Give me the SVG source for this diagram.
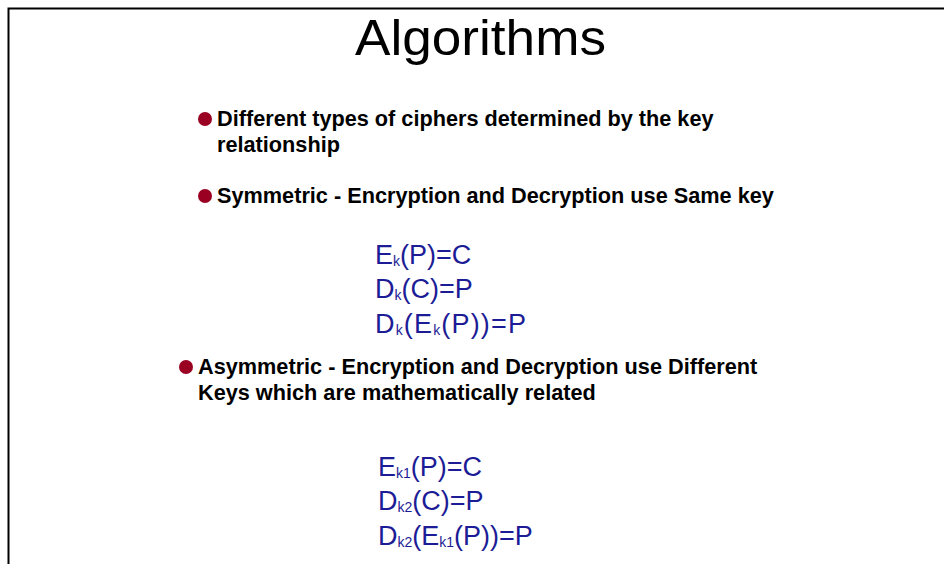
<svg xmlns="http://www.w3.org/2000/svg" width="944" height="564" viewBox="0 0 944 564">
<style>
.t{font-family:"Liberation Sans",Arial,sans-serif;fill:#000}
.b{font-family:"Liberation Sans",Arial,sans-serif;font-weight:bold;font-size:21.7px;fill:#000}
.eq{font-family:"Liberation Sans",Arial,sans-serif;font-size:27px;fill:#1c1c96}
.s{font-size:14px}
.dot{fill:#990022}
</style>
<rect x="0" y="0" width="944" height="564" fill="#fff"/>
<path d="M8.5 564V8.5H944" fill="none" stroke="#000" stroke-width="2"/>
<text class="t" x="355" y="55" font-size="50" textLength="251" lengthAdjust="spacingAndGlyphs">Algorithms</text>
<circle class="dot" cx="205" cy="119" r="7"/>
<text class="b" x="217" y="126">Different types of ciphers determined by the key</text>
<text class="b" x="217" y="152">relationship</text>
<circle class="dot" cx="205" cy="196" r="7"/>
<text class="b" x="217" y="203">Symmetric - Encryption and Decryption use Same key</text>
<text class="eq" x="375" y="264">E<tspan class="s" dy="2">k</tspan><tspan dy="-2">(P)=C</tspan></text>
<text class="eq" x="375" y="298">D<tspan class="s" dy="2">k</tspan><tspan dy="-2">(C)=P</tspan></text>
<text class="eq" x="375" y="333" textLength="151" lengthAdjust="spacing">D<tspan class="s" dy="2">k</tspan><tspan dy="-2">(E</tspan><tspan class="s" dy="2">k</tspan><tspan dy="-2">(P))=P</tspan></text>
<circle class="dot" cx="186" cy="367" r="7"/>
<text class="b" x="198" y="374">Asymmetric - Encryption and Decryption use Different</text>
<text class="b" x="198" y="400">Keys which are mathematically related</text>
<text class="eq" x="378" y="476">E<tspan class="s" dy="2">k1</tspan><tspan dy="-2">(P)=C</tspan></text>
<text class="eq" x="378" y="510">D<tspan class="s" dy="2">k2</tspan><tspan dy="-2">(C)=P</tspan></text>
<text class="eq" x="378" y="545">D<tspan class="s" dy="2">k2</tspan><tspan dy="-2">(E</tspan><tspan class="s" dy="2">k1</tspan><tspan dy="-2">(P))=P</tspan></text>
</svg>
